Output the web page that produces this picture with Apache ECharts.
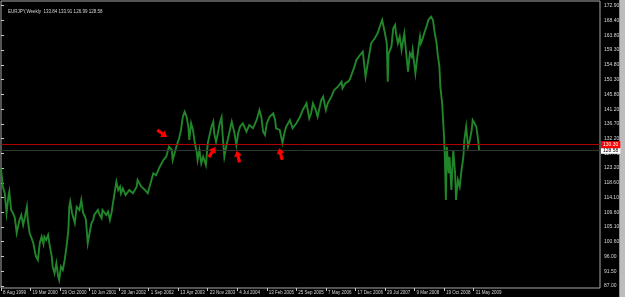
<!DOCTYPE html>
<html>
<head>
<meta charset="utf-8">
<script src="https://cdn.jsdelivr.net/npm/echarts@6/dist/echarts.min.js"></script>
<style>
  html, body { margin: 0; padding: 0; background: #000; }
  #chart { width: 625px; height: 297px; }
</style>
</head>
<body>
<div id="chart"></div>
<script>
// weekly bars counted from 8 Aug 1999
var weeks = [0, 2, 4, 6, 8, 9, 11, 13, 15, 17, 18, 20, 22, 24, 26, 28, 29, 31, 33, 35, 37, 38, 40, 42, 44, 46, 47, 49, 51, 53, 55, 56, 58, 60, 62, 63, 65, 67, 69, 71, 73, 74, 75, 77, 80, 82, 83, 85, 87, 89, 91, 92, 94, 96, 98, 100, 101, 103, 105, 107, 109, 110, 112, 114, 116, 118, 120, 121, 123, 125, 127, 129, 130, 132, 135, 139, 143, 147, 148, 152, 156, 159, 163, 165, 168, 172, 176, 179, 182, 185, 186, 190, 193, 195, 197, 199, 201, 203, 204, 206, 208, 210, 212, 213, 215, 217, 219, 222, 224, 226, 228, 230, 231, 233, 235, 237, 239, 240, 242, 244, 246, 248, 250, 253, 255, 257, 259, 262, 266, 269, 273, 277, 280, 282, 284, 286, 288, 291, 295, 297, 298, 300, 302, 305, 307, 309, 313, 316, 320, 324, 327, 331, 334, 336, 338, 341, 343, 347, 349, 352, 354, 358, 361, 365, 369, 370, 373, 376, 378, 381, 383, 385, 387, 389, 392, 395, 398, 401, 405, 408, 411, 413, 416, 418, 419, 420, 423, 425, 427, 428, 430, 432, 434, 436, 437, 439, 441, 443, 445, 446, 449, 452, 454, 455, 457, 459, 461, 463, 464, 466, 468, 470, 472, 473, 475, 476, 478, 480, 481, 482, 483, 485, 486, 488, 490, 492, 493, 495, 497, 499, 501, 502, 504, 506, 508, 510, 511, 513, 515, 517, 518];
var prices = [123.07, 117.43, 115.50, 109.37, 114.37, 115.90, 110.29, 109.37, 107.84, 103.24, 102.63, 107.23, 108.76, 105.69, 108.24, 111.30, 107.23, 103.24, 102.80, 100.18, 97.11, 95.98, 94.97, 100.18, 102.11, 99.90, 102.11, 101.10, 102.63, 99.04, 95.98, 92.92, 90.89, 93.96, 89.85, 88.84, 92.92, 91.90, 94.97, 99.04, 104.16, 111.30, 112.84, 109.37, 106.31, 111.30, 111.82, 110.29, 113.36, 109.37, 108.24, 107.23, 100.09, 103.24, 106.31, 107.23, 108.76, 108.24, 110.29, 108.76, 107.75, 110.29, 110.81, 108.76, 109.77, 107.23, 109.77, 111.82, 115.41, 118.96, 116.42, 117.43, 115.41, 116.94, 114.89, 116.42, 115.41, 117.43, 119.49, 117.43, 116.42, 115.41, 119.49, 121.54, 120.90, 123.56, 125.61, 126.63, 129.69, 128.68, 125.61, 129.69, 132.27, 134.81, 138.88, 140.42, 138.88, 135.82, 131.74, 136.86, 134.81, 130.73, 128.16, 125.61, 128.68, 124.60, 126.63, 124.08, 130.73, 133.28, 135.82, 137.35, 133.80, 131.22, 133.80, 136.86, 138.70, 133.80, 126.63, 129.69, 132.27, 134.81, 137.35, 133.80, 130.21, 133.80, 135.82, 136.86, 134.29, 136.34, 135.33, 137.87, 140.94, 138.88, 134.29, 133.28, 136.86, 138.88, 139.93, 137.87, 135.33, 135.82, 134.81, 130.82, 133.80, 135.82, 137.87, 135.33, 136.86, 138.88, 140.94, 142.99, 138.39, 139.93, 142.99, 140.94, 138.88, 144.00, 145.01, 140.94, 142.99, 145.01, 147.07, 148.08, 149.61, 147.59, 149.12, 149.61, 150.35, 152.68, 154.21, 156.26, 155.74, 157.79, 158.81, 151.14, 156.26, 161.38, 162.91, 164.44, 166.99, 168.52, 164.44, 161.38, 149.61, 158.32, 160.34, 165.98, 166.99, 164.44, 161.38, 163.40, 159.33, 162.91, 164.44, 158.32, 152.68, 158.32, 157.27, 159.33, 152.19, 159.33, 163.40, 161.38, 162.91, 164.94, 166.47, 168.52, 169.04, 169.53, 168.52, 164.44, 161.38, 158.32, 154.21, 148.08, 142.99, 132.76, 125.61, 113.36, 129.69, 121.54, 126.63, 116.42, 128.68, 121.54, 113.36, 119.49, 117.43, 122.55, 126.63, 131.74, 135.82, 129.69, 131.74, 134.81, 137.87, 136.86, 135.82, 131.74, 128.58];

var xLabels = ['8 Aug 1999', '19 Mar 2000', '29 Oct 2000', '10 Jun 2001', '20 Jan 2002', '1 Sep 2002', '13 Apr 2003', '23 Nov 2003', '4 Jul 2004', '13 Feb 2005', '25 Sep 2005', '7 May 2006', '17 Dec 2006', '29 Jul 2007', '9 Mar 2008', '19 Oct 2008', '31 May 2009'];
var yLabels = ['87.00', '91.50', '96.00', '100.60', '105.10', '109.60', '114.10', '118.60', '123.20', '127.70', '132.20', '136.70', '141.20', '145.80', '150.30', '154.80', '159.30', '163.80', '168.40', '172.90'];

var header = 'EURJPY,Weekly  133.84 133.91 126.99 128.58';
var lineLevel = 130.30; // red horizontal line
var bidLevel = 128.58;

// red hand-drawn arrows: [week, price, rotation]
var arrows = [[174.6, 133.74, -126], [228.8, 128.07, -33], [256.9, 126.69, 13], [303.0, 127.45, 15]];

var xTicks = xLabels.map(function (d, i) { return i * 32; });
var yTicks = yLabels.map(Number);

var myChart = echarts.init(document.getElementById('chart'));
var option = {
  backgroundColor: '#000',
  animation: false,
  textStyle: { fontFamily: 'Liberation Sans' },
  title: {
    text: header,
    left: 3,
    top: 4,
    textStyle: { color: '#d6d6d6', fontSize: 4.5, fontWeight: 'normal', fontFamily: 'Liberation Sans' }
  },
  grid: [
    { left: 1, right: 25, top: 5.7, bottom: 11, show: false },
    { left: 1, right: 25, top: 1, bottom: 9, show: true, borderColor: '#a8a8a8', borderWidth: 1, backgroundColor: 'transparent' }
  ],
  xAxis: [
    { gridIndex: 0, type: 'value', min: 0, max: 649, show: false },
    {
      gridIndex: 1, type: 'value', min: 0, max: 649, position: 'bottom',
      splitLine: { show: false },
      axisLine: { show: false },
      axisTick: { show: true, length: 3, customValues: xTicks, lineStyle: { color: '#c8c8c8' } },
      axisLabel: {
        customValues: xTicks,
        formatter: function (v) { return xLabels[Math.round(v / 32)] || ''; },
        align: 'left', margin: 2, padding: [0, 0, 0, 2],
        color: '#d6d6d6', fontSize: 4.5
      }
    }
  ],
  yAxis: [
    {
      gridIndex: 0, type: 'value', position: 'right', min: 87, max: 172.9,
      splitLine: { show: false },
      axisLine: { show: false },
      axisTick: { show: true, length: 3, customValues: yTicks, lineStyle: { color: '#c8c8c8' } },
      axisLabel: {
        customValues: yTicks,
        formatter: function (v) { return v.toFixed(2); },
        margin: 4, color: '#d6d6d6', fontSize: 5
      }
    },
    { gridIndex: 1, type: 'value', show: false }
  ],
  graphic: [
    { type: 'rect', shape: { x: 619, y: 0, width: 6, height: 297 }, style: { fill: '#bdbdbd' } },
    { type: 'rect', shape: { x: 619, y: 0, width: 1, height: 297 }, style: { fill: '#8c8c8c' } }
  ],
  series: [
    {
      type: 'line',
      xAxisIndex: 0,
      yAxisIndex: 0,
      data: weeks.map(function (w, i) { return [w, prices[i]]; }),
      symbol: 'none',
      lineStyle: { color: '#21862a', width: 1.9, join: 'miter' },
      markLine: {
        silent: true,
        symbol: ['none', 'none'],
        data: [
          {
            yAxis: bidLevel,
            lineStyle: { color: '#2c362c', width: 1, type: 'solid' },
            label: { show: true, position: 'end', distance: 1, formatter: bidLevel.toFixed(2), backgroundColor: '#fff', color: '#000', fontSize: 5, padding: [1, 2] }
          },
          {
            yAxis: lineLevel,
            lineStyle: { color: '#b00000', width: 1, type: 'solid' },
            label: { show: true, position: 'end', distance: 1, formatter: lineLevel.toFixed(2), backgroundColor: '#ff0000', color: '#fff', fontSize: 5, padding: [1, 2] }
          }
        ]
      },
      markPoint: {
        silent: true,
        symbol: 'path://M5,0 L10,6 L7,6 L7,13 L3,13 L3,6 L0,6 Z',
        symbolSize: [8, 12],
        itemStyle: { color: '#ff0000' },
        label: { show: false },
        data: arrows.map(function (a) { return { coord: [a[0], a[1]], symbolRotate: a[2] }; })
      }
    }
  ]
};
myChart.setOption(option);
window.onresize = myChart.resize;
</script>
</body>
</html>
